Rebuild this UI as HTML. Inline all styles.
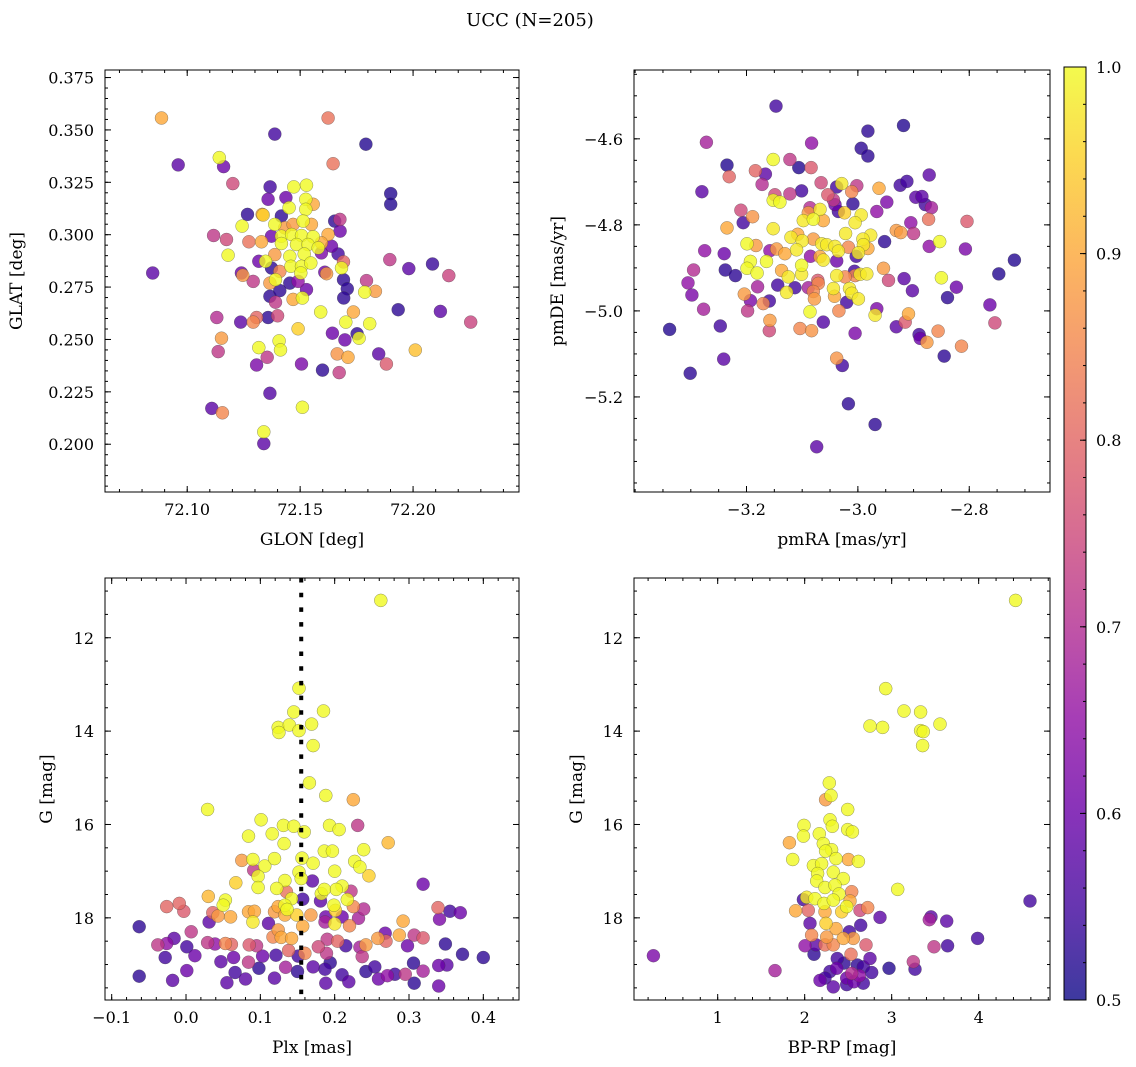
<!DOCTYPE html>
<html><head><meta charset="utf-8">
<style>
html,body{margin:0;padding:0;background:#fff;}
svg{display:block;font-family:"DejaVu Serif","Liberation Serif",serif;}
</style></head>
<body>
<svg id="fig" width="1136" height="1067" viewBox="0 0 1136 1067" xmlns="http://www.w3.org/2000/svg">
<rect width="1136" height="1067" fill="#fff"/>
<text x="530" y="26" font-size="18" text-anchor="middle">UCC (N=205)</text>
</svg>
<script>
// ---------- Panel 1: GLON vs GLAT ----------
const glon = [72.0886,72.1624,72.1388,72.1791,72.0960,72.1142,72.1161,72.1646,72.1202,72.1367,72.1358,72.1437,72.1472,72.1528,72.1525,72.1901,72.1901,72.1267,72.1332,72.1451,72.1525,72.1558,72.1417,72.1388,72.1513,72.1653,72.1676,72.1677,72.1243,72.1336,72.1432,72.1469,72.1550,72.1624,72.1117,72.1174,72.1273,72.1329,72.1373,72.1417,72.1462,72.1506,72.1558,72.1417,72.1484,72.1535,72.1594,72.1639,72.1594,72.1668,72.1181,72.1388,72.1454,72.1518,72.1580,72.1692,72.1683,72.1897,72.1981,72.2086,72.2158,72.0847,72.1317,72.1347,72.1373,72.1410,72.1459,72.1506,72.1547,72.1503,72.1240,72.1246,72.1292,72.1366,72.1391,72.1454,72.1491,72.1609,72.1617,72.1692,72.1709,72.1693,72.1528,72.1794,72.1786,72.1833,72.1366,72.1410,72.1391,72.1469,72.1510,72.1934,72.2121,72.2255,72.1131,72.1237,72.1292,72.1307,72.1358,72.1400,72.1591,72.1736,72.1702,72.1808,72.1491,72.1643,72.1698,72.1752,72.1761,72.1152,72.1137,72.1317,72.1407,72.1413,72.1307,72.1354,72.1506,72.1599,72.1664,72.1712,72.1673,72.1848,72.1882,72.2010,72.1366,72.1510,72.1109,72.1156,72.1339,72.1339];
const glat = [0.3557,0.3557,0.3480,0.3432,0.3333,0.3368,0.3325,0.3339,0.3244,0.3228,0.3169,0.3177,0.3228,0.3236,0.3169,0.3196,0.3145,0.3097,0.3097,0.3129,0.3121,0.3145,0.3089,0.3049,0.3065,0.3065,0.3073,0.3017,0.3041,0.3094,0.3033,0.3049,0.3049,0.3001,0.2996,0.2977,0.2966,0.2966,0.2993,0.2993,0.3001,0.2996,0.2990,0.2958,0.2953,0.2953,0.2961,0.2945,0.2913,0.2908,0.2902,0.2905,0.2897,0.2908,0.2937,0.2870,0.2841,0.2881,0.2838,0.2860,0.2805,0.2817,0.2873,0.2873,0.2841,0.2825,0.2849,0.2849,0.2865,0.2817,0.2817,0.2806,0.2777,0.2769,0.2785,0.2769,0.2777,0.2821,0.2814,0.2785,0.2742,0.2698,0.2738,0.2781,0.2726,0.2730,0.2706,0.2733,0.2678,0.2691,0.2698,0.2642,0.2634,0.2583,0.2605,0.2583,0.2583,0.2605,0.2605,0.2613,0.2631,0.2631,0.2583,0.2575,0.2551,0.2530,0.2498,0.2527,0.2506,0.2506,0.2442,0.2461,0.2493,0.2450,0.2378,0.2415,0.2383,0.2354,0.2431,0.2415,0.2342,0.2431,0.2383,0.2449,0.2243,0.2176,0.2171,0.2150,0.2059,0.2003];
const prob1 = [0.9,0.82,0.55,0.52,0.58,1.0,0.6,0.82,0.75,0.55,0.6,0.6,1.0,1.0,1.0,0.52,0.52,0.53,0.9,1.0,1.0,0.9,0.53,1.0,1.0,0.53,0.72,0.6,1.0,0.95,0.88,0.88,0.9,0.9,0.72,0.75,0.82,0.9,0.6,1.0,1.0,1.0,1.0,1.0,1.0,1.0,0.9,0.6,0.62,0.55,1.0,0.88,1.0,1.0,1.0,0.8,1.0,0.72,0.58,0.54,0.74,0.58,0.6,1.0,0.53,0.85,1.0,1.0,1.0,1.0,0.6,0.88,0.72,0.88,1.0,0.53,0.65,0.6,0.88,0.53,0.53,0.53,0.6,0.72,1.0,0.88,0.53,0.53,0.72,0.9,1.0,0.53,0.58,0.74,0.7,0.58,0.85,0.8,0.53,0.75,1.0,0.9,1.0,1.0,0.95,0.6,0.6,0.53,1.0,0.88,0.72,1.0,1.0,1.0,0.62,0.72,0.62,0.53,0.87,0.9,0.73,0.58,0.78,0.93,0.57,1.0,0.58,0.85,1.0,0.58];

// ---------- Panel 2: pmRA vs pmDE ----------
const pmra = [-3.147,-2.918,-2.982,-2.994,-2.982,-3.272,-3.083,-3.235,-3.231,-3.152,-3.122,-3.106,-3.084,-3.184,-3.166,-3.172,-3.280,-3.101,-3.122,-3.149,-3.152,-3.140,-3.066,-3.038,-3.029,-3.002,-3.011,-2.962,-2.924,-2.912,-2.872,-3.054,-3.044,-3.041,-3.009,-3.086,-3.068,-3.035,-3.024,-2.994,-2.948,-2.966,-2.896,-2.885,-2.879,-2.868,-2.873,-2.804,-2.905,-2.900,-3.210,-3.189,-3.206,-3.235,-3.152,-3.098,-3.080,-3.062,-3.089,-3.005,-3.022,-2.977,-2.991,-2.982,-2.990,-2.931,-2.923,-2.952,-2.853,-2.872,-2.807,-2.719,-2.747,-3.199,-3.183,-3.275,-3.240,-3.158,-3.146,-3.131,-3.120,-3.108,-3.100,-3.110,-3.080,-3.065,-3.056,-3.041,-3.017,-3.035,-2.999,-3.003,-3.085,-3.068,-3.062,-3.038,-3.164,-3.193,-3.199,-3.181,-3.101,-3.295,-3.238,-3.220,-3.137,-3.125,-3.101,-3.006,-3.005,-2.996,-2.984,-3.038,-3.023,-2.954,-2.945,-2.917,-2.850,-3.305,-3.298,-3.180,-3.144,-3.113,-3.089,-3.072,-3.071,-3.044,-3.015,-3.128,-3.080,-3.042,-3.011,-2.999,-3.020,-2.902,-2.823,-2.839,-3.204,-3.193,-3.170,-3.159,-3.198,-3.277,-3.086,-3.078,-3.034,-2.966,-2.969,-2.909,-2.763,-2.754,-3.338,-3.247,-3.158,-3.159,-3.104,-3.083,-3.062,-3.005,-2.931,-2.915,-2.890,-2.888,-2.876,-2.856,-2.814,-2.845,-3.241,-3.301,-3.038,-3.028,-3.017,-2.969,-3.074];
const pmde = [-4.524,-4.569,-4.582,-4.622,-4.640,-4.608,-4.610,-4.661,-4.688,-4.648,-4.648,-4.667,-4.667,-4.674,-4.682,-4.706,-4.723,-4.721,-4.728,-4.730,-4.743,-4.747,-4.702,-4.712,-4.704,-4.709,-4.723,-4.715,-4.708,-4.699,-4.684,-4.730,-4.742,-4.753,-4.751,-4.760,-4.764,-4.769,-4.772,-4.777,-4.747,-4.769,-4.736,-4.734,-4.753,-4.760,-4.787,-4.792,-4.795,-4.820,-4.766,-4.781,-4.795,-4.807,-4.809,-4.790,-4.787,-4.790,-4.772,-4.795,-4.820,-4.824,-4.833,-4.855,-4.846,-4.813,-4.818,-4.839,-4.839,-4.850,-4.856,-4.882,-4.914,-4.844,-4.848,-4.860,-4.867,-4.860,-4.856,-4.867,-4.829,-4.822,-4.837,-4.858,-4.833,-4.844,-4.846,-4.850,-4.852,-4.861,-4.865,-4.873,-4.873,-4.874,-4.882,-4.884,-4.885,-4.885,-4.901,-4.912,-4.894,-4.905,-4.905,-4.918,-4.906,-4.921,-4.915,-4.908,-4.918,-4.915,-4.914,-4.918,-4.921,-4.901,-4.929,-4.925,-4.923,-4.935,-4.963,-4.944,-4.940,-4.946,-4.946,-4.929,-4.936,-4.948,-4.948,-4.957,-4.955,-4.966,-4.959,-4.972,-4.980,-4.953,-4.945,-4.969,-4.961,-4.976,-4.983,-4.977,-5.000,-4.996,-5.002,-4.972,-5.000,-4.995,-5.010,-5.007,-4.986,-5.028,-5.043,-5.035,-5.022,-5.046,-5.041,-5.046,-5.026,-5.052,-5.037,-5.026,-5.055,-5.064,-5.073,-5.047,-5.082,-5.105,-5.112,-5.145,-5.110,-5.127,-5.216,-5.264,-5.316];
const prob2 = [0.55,0.52,0.53,0.53,0.53,0.68,0.65,0.52,0.8,1.0,0.72,0.52,0.78,0.8,0.58,0.7,0.58,0.55,0.72,0.75,1.0,1.0,0.75,0.55,0.98,0.72,0.85,0.9,0.55,0.55,0.58,0.78,0.72,0.6,0.53,0.7,0.98,0.55,0.95,0.98,0.62,0.65,0.58,0.58,0.55,0.68,0.82,0.78,0.65,0.72,0.75,0.87,0.55,0.9,0.98,0.98,1.0,0.9,0.88,0.98,0.98,0.98,0.98,0.9,0.98,0.88,0.88,0.53,1.0,0.65,0.62,0.52,0.52,1.0,0.88,0.65,0.6,0.65,0.88,0.9,0.98,0.9,0.98,0.98,0.88,0.98,0.98,0.98,0.85,0.98,0.98,0.55,0.65,0.9,0.98,0.6,1.0,1.0,1.0,1.0,1.0,0.7,0.53,0.53,0.9,0.98,0.98,0.55,0.85,0.98,0.98,0.98,0.85,0.88,0.75,0.58,1.0,0.65,0.62,0.68,0.55,0.55,0.68,0.78,0.85,0.98,0.98,0.98,0.85,0.9,0.98,0.98,0.55,0.58,0.6,0.53,0.88,0.62,0.85,0.55,0.72,0.68,1.0,0.88,0.85,0.62,0.98,0.9,0.6,0.75,0.52,0.55,0.88,0.75,0.85,0.87,0.57,0.62,0.58,0.78,0.55,0.6,0.88,0.85,0.85,0.53,0.58,0.53,0.87,0.55,0.53,0.53,0.58];

// ---------- Panel 3: Plx vs G ----------
const plx = [0.262,0.152,0.145,0.185,0.124,0.139,0.125,0.152,0.169,0.171,0.166,0.188,0.225,0.029,0.101,0.131,0.145,0.159,0.193,0.206,0.231,0.084,0.116,0.132,0.272,0.186,0.197,0.239,0.075,0.090,0.106,0.119,0.156,0.171,0.227,0.234,0.091,0.097,0.152,0.200,0.246,0.067,0.097,0.133,0.122,0.155,0.170,0.319,0.210,0.202,0.222,0.030,0.182,0.186,0.135,0.142,0.157,0.181,0.217,-0.026,-0.009,-0.003,0.053,0.050,0.124,0.133,0.136,0.199,0.201,0.225,0.239,0.339,0.355,0.369,0.036,0.043,0.060,0.084,0.092,0.090,0.119,0.133,0.149,0.168,0.188,0.210,0.232,0.341,-0.063,0.031,0.111,0.124,0.157,0.187,0.200,0.220,0.292,0.007,-0.038,-0.026,-0.016,0.029,0.039,0.053,0.061,0.085,0.095,0.117,0.128,0.142,0.178,0.190,0.204,0.215,0.242,0.234,0.258,0.268,0.269,0.287,0.307,0.319,0.298,0.349,-0.028,0.001,0.012,0.047,0.064,0.084,0.103,0.121,0.138,0.151,0.160,0.189,0.237,0.372,0.400,-0.063,-0.018,0.001,0.055,0.066,0.080,0.098,0.119,0.134,0.150,0.171,0.188,0.187,0.194,0.210,0.219,0.242,0.254,0.259,0.271,0.281,0.295,0.307,0.306,0.319,0.340,0.351,0.340];
const gmag3 = [11.20,13.08,13.59,13.57,13.92,13.87,14.03,13.99,13.85,14.31,15.11,15.38,15.47,15.68,15.90,16.02,16.04,16.16,16.02,16.11,16.02,16.25,16.20,16.41,16.39,16.57,16.57,16.54,16.77,16.75,16.89,16.73,16.72,16.83,16.79,16.91,16.98,17.11,17.02,17.00,17.10,17.25,17.35,17.20,17.37,17.16,17.21,17.28,17.32,17.39,17.43,17.54,17.48,17.39,17.44,17.59,17.60,17.64,17.61,17.76,17.69,17.86,17.62,17.73,17.76,17.73,17.82,17.73,17.84,17.76,17.81,17.78,17.86,17.89,17.89,17.96,17.98,17.87,17.86,18.09,17.87,17.94,17.94,17.94,17.98,17.98,18.01,18.03,18.19,18.09,18.12,18.26,18.18,18.09,18.13,18.17,18.07,18.30,18.58,18.55,18.44,18.53,18.56,18.55,18.57,18.58,18.60,18.41,18.42,18.44,18.62,18.46,18.50,18.60,18.58,18.63,18.44,18.33,18.50,18.37,18.37,18.43,18.60,18.56,18.85,18.62,18.81,18.94,18.85,18.95,18.82,18.80,18.70,18.82,18.76,18.76,18.83,18.78,18.85,19.25,19.34,19.13,19.39,19.17,19.31,19.08,19.29,19.06,19.15,19.05,19.40,19.10,18.96,19.22,19.37,19.15,19.05,19.31,19.24,19.21,19.21,19.40,18.97,19.14,19.02,19.01,19.46];
const prob3 = [1,1,1,1,1,1,1,1,1,1,1,1,0.9,1,1,1,1,1,1,1,0.72,1,1,1,0.92,1,1,1,0.88,1,1,1,1,1,1,1,0.72,1,1,1,0.95,0.95,1,1,1,1,0.58,0.6,1,1,0.72,0.92,1,1,0.82,1,0.55,0.58,1,0.8,0.8,0.78,1,1,0.9,1,1,1,0.95,0.85,0.7,0.8,0.55,0.6,0.8,0.88,0.9,0.9,0.9,0.98,0.88,0.9,0.95,0.88,0.6,0.6,0.68,0.62,0.53,0.58,0.58,0.88,0.9,0.68,0.98,0.85,0.9,0.72,0.72,0.65,0.58,0.72,0.65,0.85,0.8,0.78,0.72,0.85,0.9,0.9,0.75,0.72,0.8,0.55,0.88,0.68,0.88,0.6,0.8,0.9,0.72,0.78,0.6,0.53,0.55,0.55,0.6,0.58,0.6,0.72,0.6,0.55,0.8,0.55,0.85,0.72,0.72,0.53,0.53,0.53,0.58,0.6,0.58,0.55,0.58,0.53,0.58,0.68,0.53,0.58,0.58,0.55,0.53,0.55,0.58,0.53,0.55,0.6,0.65,0.55,0.72,0.53,0.53,0.68,0.6,0.58,0.6];
const plxLine = 0.155;

// ---------- Panel 4: BP-RP vs G ----------
const bprp = [4.425,2.931,3.142,3.333,2.751,2.896,3.555,3.333,3.364,3.356,2.283,2.303,2.241,2.494,2.291,2.318,1.992,1.985,2.168,2.494,2.548,1.824,1.862,2.214,2.310,2.241,2.360,2.502,2.617,2.100,2.195,2.329,2.149,2.444,2.138,3.069,2.234,2.349,2.395,2.540,2.023,1.985,2.119,2.222,2.329,2.521,2.483,2.636,2.724,1.896,2.042,2.234,2.425,2.866,3.452,3.433,3.632,4.590,2.061,2.245,2.360,2.644,2.513,2.080,2.253,2.444,2.559,2.705,2.004,2.130,2.329,2.234,3.988,3.643,3.486,2.107,2.532,2.375,2.452,2.605,2.751,2.674,2.770,2.368,2.291,2.540,2.628,2.483,2.674,2.176,2.234,2.329,2.483,2.567,2.969,3.268,3.249,1.659,0.261];
const gmag4 = [11.20,13.09,13.57,13.59,13.89,13.92,13.85,13.99,14.01,14.31,15.11,15.38,15.47,15.68,15.90,16.04,16.02,16.25,16.20,16.11,16.16,16.39,16.75,16.41,16.54,16.57,16.73,16.75,16.79,16.88,16.84,17.02,17.05,17.16,17.21,17.39,17.35,17.30,17.49,17.44,17.56,17.61,17.59,17.69,17.62,17.64,17.76,17.84,17.78,17.85,17.84,17.87,17.87,17.99,17.98,18.04,18.07,17.64,18.12,18.12,18.23,18.16,18.30,18.37,18.41,18.44,18.44,18.58,18.60,18.58,18.58,18.58,18.44,18.60,18.62,18.78,18.78,18.87,18.97,19.01,18.87,19.05,19.17,19.08,19.15,19.19,19.24,19.29,19.40,19.34,19.29,19.48,19.43,19.37,19.08,19.10,18.94,19.13,18.81];
const prob4 = [1,1,1,1,1,1,1,1,1,1,1,1,0.88,1,1,1,1,1,1,1,1,0.9,1,1,1,1,1,0.9,1,1,1,1,1,1,1,1,1,1,1,0.85,0.98,0.55,1,1,1,0.9,1,0.75,0.85,0.9,0.8,0.9,0.95,0.58,0.58,0.68,0.58,0.55,0.58,0.95,0.9,0.55,0.55,0.85,0.88,0.9,0.88,0.78,0.65,0.58,0.85,0.82,0.55,0.55,0.72,0.53,0.82,0.55,0.53,0.53,0.58,0.55,0.55,0.6,0.55,0.7,0.65,0.6,0.55,0.6,0.55,0.58,0.55,0.6,0.52,0.55,0.72,0.68,0.62];

// ---------- Colorbar ----------
const cbTicks = [0.5,0.6,0.7,0.8,0.9,1.0];
const cbMin = 0.5, cbMax = 1.0;

const NS = "http://www.w3.org/2000/svg";
const svg = document.getElementById('fig');
function mk(tag, attrs, parent){
  const e = document.createElementNS(NS, tag);
  for (const k in attrs) e.setAttribute(k, attrs[k]);
  (parent||svg).appendChild(e);
  return e;
}
const plasmaStops = [[13,8,135],[65,4,157],[106,0,168],[143,13,164],[177,42,144],[204,71,120],[225,100,98],[242,132,75],[252,166,54],[252,206,37],[240,249,33]];
function plasma(t){
  t = Math.max(0, Math.min(1, t));
  const f = t*10, i = Math.min(9, Math.floor(f)), r = f - i;
  const a = plasmaStops[i], b = plasmaStops[i+1];
  return `rgb(${Math.round(a[0]+(b[0]-a[0])*r)},${Math.round(a[1]+(b[1]-a[1])*r)},${Math.round(a[2]+(b[2]-a[2])*r)})`;
}
function fmt(v, d){ const s = v.toFixed(d); return s.replace('-', '\u2212'); }

function panel(cfg){
  const {name, L, T, R, B, xmin, xmax, ymin, ymax, invertY, xs, ys, ps, xMajor, xMinor, yMajor, yMinor, xDec, yDec, xlabel, ylabel, ylabelX} = cfg;
  const g = mk('g', {});
  
  
  const sx = v => L + (v - xmin) / (xmax - xmin) * (R - L);
  const sy = v => invertY ? T + (v - ymin) / (ymax - ymin) * (B - T) : B - (v - ymin) / (ymax - ymin) * (B - T);
  const clipId = name + '-clip';
  const cp = mk('clipPath', {id: clipId}, g);
  mk('rect', {x: L, y: T, width: R - L, height: B - T}, cp);
  const pts = mk('g', {'clip-path': `url(#${clipId})`}, g);
  
  
  const idx = xs.map((_, i) => i).sort((a, b) => ps[a] - ps[b]);
  idx.forEach(i => {
    const c = mk('circle', {cx: sx(xs[i]).toFixed(1), cy: sy(ys[i]).toFixed(1), r: 6.5, fill: plasma((ps[i] - cbMin) / (cbMax - cbMin)), 'fill-opacity': 0.8, stroke: 'rgba(60,60,60,0.55)', 'stroke-width': 0.5}, pts);
    
    
  });
  if (cfg.vline !== undefined) {
    const ln = mk('line', {x1: sx(cfg.vline), x2: sx(cfg.vline), y1: T, y2: B, stroke: '#000', 'stroke-width': 4, 'stroke-dasharray': '4.5 10.2'}, pts);
    
    
  }
  const fr = mk('rect', {x: L, y: T, width: R - L, height: B - T, fill: 'none', stroke: '#000', 'stroke-width': 1}, g);
  
  
  const tk = mk('g', {stroke: '#000', 'stroke-width': 1}, g);
  const eps = 1e-9;
  for (let v = Math.ceil(xmin / xMinor) * xMinor; v <= xmax + eps; v += xMinor) {
    const px = sx(v);
    mk('line', {x1: px, x2: px, y1: B, y2: B - 3}, tk);
    mk('line', {x1: px, x2: px, y1: T, y2: T + 3}, tk);
  }
  for (let v = Math.ceil(ymin / yMinor - eps) * yMinor; v <= ymax + eps; v += yMinor) {
    const py = sy(v);
    mk('line', {x1: L, x2: L + 3, y1: py, y2: py}, tk);
    mk('line', {x1: R, x2: R - 3, y1: py, y2: py}, tk);
  }
  xMajor.forEach(v => {
    const px = sx(v);
    mk('line', {x1: px, x2: px, y1: B, y2: B - 6}, tk);
    mk('line', {x1: px, x2: px, y1: T, y2: T + 6}, tk);
    const t = mk('text', {x: px, y: B + 23, 'font-size': 16, 'text-anchor': 'middle'}, g);
    t.textContent = fmt(v, xDec);
    
    
  });
  yMajor.forEach(v => {
    const py = sy(v);
    mk('line', {x1: L, x2: L + 6, y1: py, y2: py}, tk);
    mk('line', {x1: R, x2: R - 6, y1: py, y2: py}, tk);
    const t = mk('text', {x: L - 11, y: py + 6, 'font-size': 16, 'text-anchor': 'end'}, g);
    t.textContent = fmt(v, yDec);
    
    
  });
  const xl = mk('text', {x: (L + R) / 2, y: B + 53, 'font-size': 17, 'text-anchor': 'middle'}, g);
  xl.textContent = xlabel;
  
  
  const yc = (T + B) / 2;
  const yl = mk('text', {x: ylabelX, y: yc, 'font-size': 17, 'text-anchor': 'middle', transform: `rotate(-90 ${ylabelX} ${yc})`}, g);
  yl.textContent = ylabel;
  
  
}

panel({name: 'glon-glat-panel', L: 105, T: 70, R: 519, B: 492, xmin: 72.0636, xmax: 72.2469, ymin: 0.1772, ymax: 0.3786, xs: glon, ys: glat, ps: prob1,
  xMajor: [72.10, 72.15, 72.20], xMinor: 0.01, yMajor: [0.200,0.225,0.250,0.275,0.300,0.325,0.350,0.375], yMinor: 0.005, xDec: 2, yDec: 3,
  xlabel: 'GLON [deg]', ylabel: 'GLAT [deg]', ylabelX: 22});
panel({name: 'pm-panel', L: 634, T: 70, R: 1050, B: 492, xmin: -3.402, xmax: -2.655, ymin: -5.421, ymax: -4.440, xs: pmra, ys: pmde, ps: prob2,
  xMajor: [-3.2, -3.0, -2.8], xMinor: 0.05, yMajor: [-5.2, -5.0, -4.8, -4.6], yMinor: 0.05, xDec: 1, yDec: 1,
  xlabel: 'pmRA [mas/yr]', ylabel: 'pmDE [mas/yr]', ylabelX: 563});
panel({name: 'plx-g-panel', L: 105, T: 578, R: 519, B: 1000, xmin: -0.109, xmax: 0.448, ymin: 10.72, ymax: 19.76, invertY: true, xs: plx, ys: gmag3, ps: prob3, vline: plxLine,
  xMajor: [-0.1, 0.0, 0.1, 0.2, 0.3, 0.4], xMinor: 0.02, yMajor: [12, 14, 16, 18], yMinor: 0.5, xDec: 1, yDec: 0,
  xlabel: 'Plx [mas]', ylabel: 'G [mag]', ylabelX: 52});
panel({name: 'cmd-panel', L: 634, T: 578, R: 1050, B: 1000, xmin: 0.038, xmax: 4.82, ymin: 10.72, ymax: 19.76, invertY: true, xs: bprp, ys: gmag4, ps: prob4,
  xMajor: [1, 2, 3, 4], xMinor: 0.2, yMajor: [12, 14, 16, 18], yMinor: 0.5, xDec: 0, yDec: 0,
  xlabel: 'BP-RP [mag]', ylabel: 'G [mag]', ylabelX: 582});

// colorbar
(function(){
  const L = 1064, R = 1086, T = 67, B = 1000;
  const g = mk('g', {});
  
  
  const defs = mk('defs', {}, g);
  const lg = mk('linearGradient', {id: 'cbgrad', x1: 0, y1: 1, x2: 0, y2: 0}, defs);
  for (let i = 0; i <= 10; i++) mk('stop', {offset: i / 10, 'stop-color': plasma(i / 10)}, lg);
  mk('rect', {x: L, y: T, width: R - L, height: B - T, fill: 'url(#cbgrad)', 'fill-opacity': 0.8}, g);
  mk('rect', {x: L, y: T, width: R - L, height: B - T, fill: 'none', stroke: '#000', 'stroke-width': 1}, g);
  const sy = v => B - (v - cbMin) / (cbMax - cbMin) * (B - T);
  for (let v = cbMin; v <= cbMax + 1e-9; v += 0.02) mk('line', {x1: R, x2: R - 3, y1: sy(v), y2: sy(v), stroke: '#000'}, g);
  cbTicks.forEach(v => {
    mk('line', {x1: R, x2: R - 6, y1: sy(v), y2: sy(v), stroke: '#000'}, g);
    const t = mk('text', {x: R + 10, y: sy(v) + 6, 'font-size': 16}, g);
    t.textContent = v.toFixed(1);
    
    
  });
})();
</script>
</body></html>
